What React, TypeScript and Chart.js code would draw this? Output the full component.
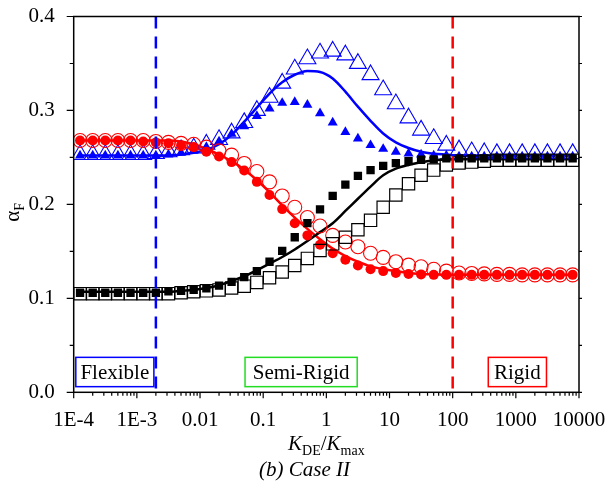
import React, { useEffect, useRef } from 'react';
import { Chart, registerables } from 'chart.js';

Chart.register(...registerables);

const FONT = '"Liberation Serif", "Times New Roman", serif';

// K_DE / K_max sample positions (log spaced)
const kRatio = [
  1.26e-4, 2.0e-4, 3.16e-4, 5.01e-4, 7.94e-4,
  1.26e-3, 2.0e-3, 3.16e-3, 5.01e-3, 7.94e-3,
  0.0126, 0.02, 0.0316, 0.0501, 0.0794,
  0.126, 0.2, 0.316, 0.501, 0.794,
  1.26, 2.0, 3.16, 5.01, 7.94,
  12.6, 20, 31.6, 50.1, 79.4,
  126, 200, 316, 501, 794,
  1260, 2000, 3160, 5010, 7940,
];

const redFilled = [
  0.268, 0.268, 0.268, 0.268, 0.268, 0.267, 0.266, 0.265, 0.263, 0.261,
  0.256, 0.251, 0.245, 0.236, 0.224, 0.210, 0.195, 0.180, 0.167, 0.157,
  0.148, 0.141, 0.135, 0.131, 0.129, 0.127, 0.126, 0.1255, 0.125, 0.125,
  0.125, 0.125, 0.125, 0.125, 0.125, 0.125, 0.125, 0.125, 0.125, 0.125,
];
const redOpen = [
  0.268, 0.268, 0.268, 0.268, 0.268, 0.268, 0.267, 0.266, 0.265, 0.264,
  0.261, 0.257, 0.2525, 0.2436, 0.235, 0.224, 0.209, 0.197, 0.186, 0.177,
  0.167, 0.160, 0.155, 0.148, 0.1436, 0.139, 0.1354, 0.1336, 0.131, 0.129,
  0.127, 0.1265, 0.126, 0.1255, 0.1255, 0.125, 0.125, 0.125, 0.125, 0.125,
];
const redLine = [
  0.268, 0.268, 0.268, 0.268, 0.268, 0.268, 0.268, 0.268, 0.267, 0.264,
  0.259, 0.253, 0.246, 0.237, 0.226, 0.213, 0.199, 0.186, 0.174, 0.163,
  0.153, 0.145, 0.139, 0.134, 0.131, 0.129, 0.127, 0.126, 0.1255, 0.125,
  0.125, 0.125, 0.125, 0.125, 0.125, 0.125, 0.125, 0.125, 0.125, 0.125,
];
const blueOpen = [
  0.253, 0.253, 0.253, 0.253, 0.253, 0.253, 0.254, 0.256, 0.258, 0.260,
  0.264, 0.269, 0.276, 0.287, 0.300, 0.314, 0.329, 0.344, 0.355, 0.361,
  0.363, 0.359, 0.350, 0.338, 0.322, 0.307, 0.292, 0.279, 0.270, 0.263,
  0.258, 0.256, 0.255, 0.254, 0.254, 0.254, 0.254, 0.254, 0.254, 0.254,
];
const blueFilled = [
  0.252, 0.252, 0.252, 0.252, 0.252, 0.252, 0.252, 0.253, 0.255, 0.257,
  0.261, 0.267, 0.275, 0.283, 0.294, 0.302, 0.308, 0.309, 0.306, 0.297,
  0.287, 0.277, 0.270, 0.263, 0.259, 0.256, 0.254, 0.253, 0.252, 0.252,
  0.251, 0.251, 0.251, 0.251, 0.251, 0.251, 0.251, 0.251, 0.251, 0.251,
];
const blueLine = [
  0.252, 0.252, 0.252, 0.252, 0.252, 0.252, 0.252, 0.252, 0.253, 0.255,
  0.258, 0.264, 0.274, 0.288, 0.303, 0.318, 0.330, 0.338, 0.342, 0.341,
  0.334, 0.320, 0.304, 0.289, 0.2755, 0.266, 0.260, 0.256, 0.254, 0.253,
  0.252, 0.252, 0.252, 0.252, 0.252, 0.252, 0.252, 0.252, 0.252, 0.252,
];
const blackFilled = [
  0.106, 0.106, 0.106, 0.106, 0.106, 0.106, 0.106, 0.1075, 0.108, 0.109,
  0.1106, 0.1135, 0.1175, 0.1226, 0.129, 0.139, 0.1506, 0.165, 0.180, 0.1947,
  0.209, 0.221, 0.2304, 0.2365, 0.241, 0.244, 0.246, 0.2475, 0.248, 0.249,
  0.249, 0.249, 0.249, 0.249, 0.249, 0.249, 0.249, 0.249, 0.249, 0.249,
];
const blackOpen = [
  0.105, 0.105, 0.105, 0.105, 0.105, 0.105, 0.105, 0.105, 0.106, 0.107,
  0.108, 0.109, 0.111, 0.113, 0.117, 0.122, 0.128, 0.135, 0.1425, 0.151,
  0.158, 0.165, 0.173, 0.183, 0.197, 0.210, 0.222, 0.231, 0.2365, 0.242,
  0.244, 0.245, 0.246, 0.247, 0.247, 0.247, 0.247, 0.247, 0.247, 0.247,
];
const blackLine = [
  0.107, 0.107, 0.107, 0.107, 0.107, 0.107, 0.107, 0.107, 0.108, 0.109,
  0.111, 0.114, 0.1185, 0.1235, 0.130, 0.137, 0.144, 0.152, 0.161, 0.1705,
  0.180, 0.193, 0.206, 0.219, 0.231, 0.238, 0.242, 0.2448, 0.247, 0.2478,
  0.248, 0.248, 0.248, 0.248, 0.248, 0.248, 0.248, 0.248, 0.248, 0.248,
];

const xTickValues = [1e-4, 1e-3, 0.01, 0.1, 1, 10, 100, 1000, 10000];
const xTickLabels = ['1E-4', '1E-3', '0.01', '0.1', '1', '10', '100', '1000', '10000'];
const yTickValues = [0, 0.1, 0.2, 0.3, 0.4];
const yTickLabels = ['0.0', '0.1', '0.2', '0.3', '0.4'];

const boundaryValues = [0.002, 100];
const regionLabels = ['Flexible', 'Semi-Rigid', 'Rigid'];

const pts = (ys: number[]) => ys.map((y, i) => ({ x: kRatio[i], y }));

const boundaryStyles = [{ color: '#0000ff' }, { color: '#ff0000' }];
const regionBoxes = [
  { from: 1.08e-4, to: 0.00186, color: '#0000ff' },
  { from: 0.0516, to: 3.08, color: '#22dd22' },
  { from: 366, to: 3055, color: '#ff0000' },
];

const framePlugin = {
  id: 'frameTicks',
  afterDraw(chart: any) {
    const { ctx, chartArea: a, scales } = chart;
    const xs = scales.x;
    const ys = scales.y;
    ctx.save();
    ctx.strokeStyle = '#000';
    ctx.lineWidth = 1.5;
    ctx.strokeRect(a.left, a.top, a.right - a.left, a.bottom - a.top);
    ctx.lineWidth = 1.2;
    ctx.beginPath();
    for (let d = -4; d <= 4; d++) {
      for (let m = 1; m <= 9; m++) {
        const v = m * Math.pow(10, d);
        if (v > 10000 * 1.0001) break;
        const px = xs.getPixelForValue(v);
        const len = m === 1 ? 6 : 3.5;
        ctx.moveTo(px, a.bottom);
        ctx.lineTo(px, a.bottom + len);
      }
    }
    for (let i = 0; i <= 8; i++) {
      const v = i * 0.05;
      const py = ys.getPixelForValue(v);
      const len = i % 2 === 0 ? 7 : 4;
      ctx.moveTo(a.left, py);
      ctx.lineTo(a.left - len, py);
      ctx.moveTo(a.right, py);
      ctx.lineTo(a.right + 3, py);
    }
    ctx.stroke();
    ctx.restore();
  },
};

const annotationPlugin = {
  id: 'regions',
  afterDatasetsDraw(chart: any) {
    const { ctx, chartArea: a, scales } = chart;
    const xs = scales.x;
    const ys = scales.y;
    ctx.save();
    boundaryValues.forEach((v, i) => {
      const px = xs.getPixelForValue(v);
      ctx.strokeStyle = boundaryStyles[i].color;
      ctx.lineWidth = 2.5;
      ctx.setLineDash([12, 8]);
      ctx.beginPath();
      ctx.moveTo(px, a.top);
      ctx.lineTo(px, a.bottom);
      ctx.stroke();
    });
    ctx.setLineDash([]);
    const yTop = ys.getPixelForValue(0.0372);
    const yBot = ys.getPixelForValue(0.006);
    regionBoxes.forEach((b, i) => {
      const x1 = xs.getPixelForValue(b.from);
      const x2 = xs.getPixelForValue(b.to);
      ctx.fillStyle = '#fff';
      ctx.fillRect(x1, yTop, x2 - x1, yBot - yTop);
      ctx.strokeStyle = b.color;
      ctx.lineWidth = 1.5;
      ctx.strokeRect(x1, yTop, x2 - x1, yBot - yTop);
      ctx.fillStyle = '#000';
      ctx.font = `21px ${FONT}`;
      ctx.textAlign = 'center';
      ctx.textBaseline = 'alphabetic';
      ctx.fillText(regionLabels[i], (x1 + x2) / 2, (yTop + yBot) / 2 + 7);
    });
    ctx.restore();
  },
};

type Part = { text: string; font: string; dy: number };
function drawParts(ctx: CanvasRenderingContext2D, parts: Part[], cx: number, by: number) {
  let total = 0;
  parts.forEach((p) => {
    ctx.font = p.font;
    total += ctx.measureText(p.text).width;
  });
  let x = cx - total / 2;
  parts.forEach((p) => {
    ctx.font = p.font;
    ctx.fillText(p.text, x, by + p.dy);
    x += ctx.measureText(p.text).width;
  });
}

const titlePlugin = {
  id: 'titles',
  afterDraw(chart: any) {
    const { ctx, chartArea: a } = chart;
    ctx.save();
    ctx.fillStyle = '#000';
    ctx.textAlign = 'left';
    ctx.textBaseline = 'alphabetic';
    const big = `21px ${FONT}`;
    const bigI = `italic 21px ${FONT}`;
    const sub = `14px ${FONT}`;
    drawParts(
      ctx,
      [
        { text: 'K', font: bigI, dy: 0 },
        { text: 'DE', font: sub, dy: 5 },
        { text: '/', font: big, dy: 0 },
        { text: 'K', font: bigI, dy: 0 },
        { text: 'max', font: sub, dy: 5 },
      ],
      (a.left + a.right) / 2,
      450
    );
    ctx.font = bigI;
    ctx.textAlign = 'center';
    ctx.fillText('(b) Case II', chart.width / 2, 476);
    ctx.save();
    ctx.translate(19, (a.top + a.bottom) / 2 + 8);
    ctx.rotate(-Math.PI / 2);
    ctx.textAlign = 'left';
    drawParts(
      ctx,
      [
        { text: 'α', font: big, dy: 0 },
        { text: 'F', font: sub, dy: 5 },
      ],
      0,
      0
    );
    ctx.restore();
    ctx.restore();
  },
};

export default function App() {
  const ref = useRef<HTMLCanvasElement>(null);
  useEffect(() => {
    if (!ref.current) return;
    const open = 'rgba(0,0,0,0)';
    const chart = new Chart(ref.current, {
      type: 'scatter',
      data: {
        datasets: [
          { data: pts(blackOpen), pointStyle: 'rect', pointRadius: 8.7, backgroundColor: open, borderColor: '#000', borderWidth: 1.2 },
          { data: pts(blackFilled), pointStyle: 'rect', pointRadius: 5.9, backgroundColor: '#000', borderColor: '#000', borderWidth: 0 },
          { data: pts(redOpen), pointStyle: 'circle', pointRadius: 7, backgroundColor: open, borderColor: '#ff0000', borderWidth: 1.1 },
          { data: pts(redFilled), pointStyle: 'circle', pointRadius: 5, backgroundColor: '#ff0000', borderColor: '#ff0000', borderWidth: 0 },
          { data: pts(blueOpen), pointStyle: 'triangle', pointRadius: 9.8, backgroundColor: open, borderColor: '#0000ff', borderWidth: 1.1 },
          { data: pts(blueFilled), pointStyle: 'triangle', pointRadius: 5.8, backgroundColor: '#0000ff', borderColor: '#0000ff', borderWidth: 0 },
          { data: pts(blackLine), showLine: true, pointRadius: 0, borderColor: '#000', borderWidth: 2.5, cubicInterpolationMode: 'monotone' },
          { data: pts(redLine), showLine: true, pointRadius: 0, borderColor: '#ff0000', borderWidth: 2.5, cubicInterpolationMode: 'monotone' },
          { data: pts(blueLine), showLine: true, pointRadius: 0, borderColor: '#0000ff', borderWidth: 2.5, cubicInterpolationMode: 'monotone' },
        ] as any,
      },
      options: {
        responsive: false,
        maintainAspectRatio: false,
        animation: false,
        events: [],
        layout: { padding: { left: 0, right: 30, top: 16.5, bottom: 0 } },
        plugins: { legend: { display: false }, tooltip: { enabled: false } },
        scales: {
          x: {
            type: 'logarithmic',
            min: 1e-4,
            max: 1e4,
            grid: { display: false },
            border: { display: false },
            afterBuildTicks: (s: any) => {
              s.ticks = xTickValues.map((v) => ({ value: v, major: true }));
            },
            afterFit: (s: any) => {
              s.height = 102.7;
              s.paddingLeft = 0;
              s.paddingRight = 0;
            },
            ticks: {
              autoSkip: false,
              maxRotation: 0,
              padding: 8,
              color: '#000',
              font: { family: FONT, size: 21 },
              callback: (_v: any, i: number) => xTickLabels[i],
            },
          },
          y: {
            min: 0,
            max: 0.4,
            grid: { display: false },
            border: { display: false },
            afterBuildTicks: (s: any) => {
              s.ticks = yTickValues.map((v) => ({ value: v }));
            },
            afterFit: (s: any) => {
              s.width = 73.7;
              s.paddingTop = 0;
              s.paddingBottom = 0;
            },
            ticks: {
              padding: 11,
              color: '#000',
              font: { family: FONT, size: 21 },
              callback: (_v: any, i: number) => yTickLabels[i],
            },
          },
        },
      } as any,
      plugins: [annotationPlugin, framePlugin, titlePlugin],
    });
    return () => chart.destroy();
  }, []);
  return (
    <div style={{ position: 'fixed', left: 0, top: 0, width: 609, height: 495, background: '#fff' }}>
      <canvas ref={ref} width={609} height={495} style={{ width: 609, height: 495 }} />
    </div>
  );
}
